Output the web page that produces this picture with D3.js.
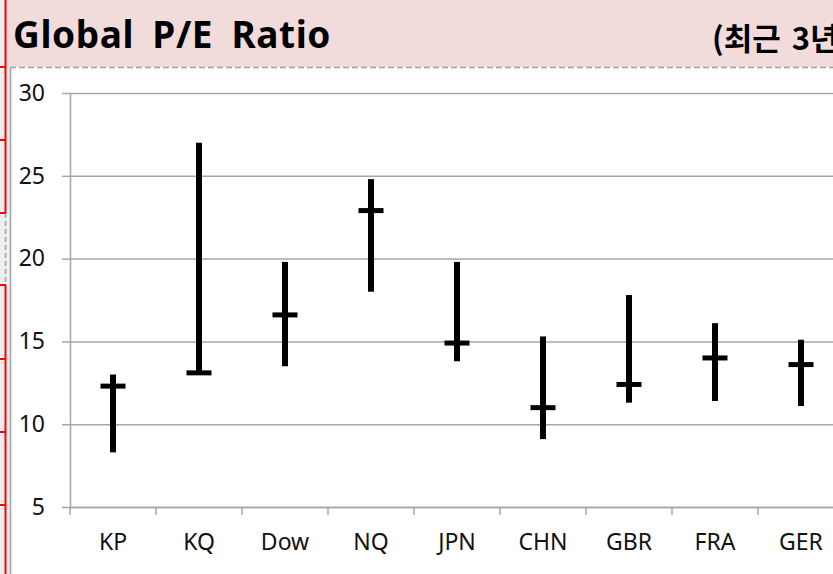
<!DOCTYPE html>
<html>
<head>
<meta charset="utf-8">
<script src="https://cdn.jsdelivr.net/npm/d3@7"></script>
<style>
  body { margin: 0; background: #fff; }
  svg { display: block; font-family: "Noto Sans", "Noto Sans CJK KR", sans-serif; }
</style>
</head>
<body>
<div id="chart"></div>
<script>
// P/E range over last 3 years, with the current value as a crossbar
let categories = ["KP", "KQ", "Dow", "NQ", "JPN", "CHN", "GBR", "FRA", "GER"];
let highs    = [13.0, 27.0, 19.8, 24.8, 19.8, 15.3, 17.8, 16.1, 15.1];
let lows     = [8.3, 13.1, 13.5, 18.0, 13.8, 9.1, 11.3, 11.4, 11.1];
let currents = [12.3, 13.1, 16.6, 22.9, 14.9, 11.0, 12.4, 14.0, 13.6];
let yTicks   = [5, 10, 15, 20, 25, 30];

let W = 833, H = 574;
let plot = { left: 70, top: 93, right: 844, bottom: 507 };
let gridColor = "#a6a6a6";

var svg = d3.select("#chart").append("svg")
    .attr("width", W)
    .attr("height", H);

// page / screenshot background bits
svg.append("rect").attr("x", 0).attr("y", 0).attr("width", 10).attr("height", H).attr("fill", "#efefef");
svg.append("rect").attr("x", 6).attr("y", 0).attr("width", W - 6).attr("height", 67).attr("fill", "#f2dcdb");
svg.append("rect").attr("x", 11).attr("y", 68).attr("width", W - 11).attr("height", H - 68).attr("fill", "#fff");
svg.append("line").attr("x1", 10).attr("x2", W).attr("y1", 67.5).attr("y2", 67.5)
    .attr("stroke", "#a0a0a0").attr("stroke-width", 1.5).attr("stroke-dasharray", "6,3");
svg.append("line").attr("x1", 10.5).attr("x2", 10.5).attr("y1", 68).attr("y2", H)
    .attr("stroke", "#a0a0a0").attr("stroke-width", 1.5);

// red cell outlines on the left edge
var red = "#ff0000";
svg.append("line").attr("x1", 5.5).attr("x2", 5.5).attr("y1", 0).attr("y2", 213).attr("stroke", red).attr("stroke-width", 2);
svg.append("line").attr("x1", 5.5).attr("x2", 5.5).attr("y1", 213).attr("y2", 285)
    .attr("stroke", "#b0b0b0").attr("stroke-width", 2).attr("stroke-dasharray", "5,3");
svg.append("line").attr("x1", 5.5).attr("x2", 5.5).attr("y1", 285).attr("y2", H).attr("stroke", red).attr("stroke-width", 2);
[67, 140, 213, 285, 359, 432, 505].forEach(function (y) {
    svg.append("line").attr("x1", 0).attr("x2", 6).attr("y1", y).attr("y2", y)
        .attr("stroke", red).attr("stroke-width", 2);
});

// titles
svg.append("text")
    .attr("x", 13).attr("y", 48)
    .attr("font-size", 37).attr("font-weight", "bold")
    .attr("letter-spacing", 0.6)
    .attr("word-spacing", 8)
    .text("Global P/E Ratio");

svg.append("text")
    .attr("x", 712).attr("y", 50)
    .attr("font-size", 31).attr("font-weight", "bold")
    .attr("font-family", "'Noto Sans CJK KR', sans-serif")
    .attr("word-spacing", 4)
    .text("(최근 3년)");

// scales
var xScale = d3.scaleBand()
    .domain(categories)
    .range([plot.left, plot.right])
    .padding(0);

var yScale = d3.scaleLinear()
    .domain([5, 30])
    .range([plot.bottom, plot.top]);

// gridlines
var grid = svg.append("g")
    .attr("transform", "translate(" + plot.left + ",0)")
    .call(d3.axisLeft(yScale).tickValues(yTicks).tickSize(-(plot.right - plot.left)).tickFormat(""));
grid.select(".domain").remove();
grid.selectAll("line").attr("stroke", gridColor).attr("stroke-width", 1.5);

// y axis
var yAxis = svg.append("g")
    .attr("transform", "translate(" + plot.left + ",0)")
    .call(d3.axisLeft(yScale).tickValues(yTicks).tickSize(8).tickPadding(17).tickSizeOuter(0));
yAxis.select(".domain").attr("stroke", gridColor).attr("stroke-width", 1.5);
yAxis.selectAll("line").attr("stroke", gridColor).attr("stroke-width", 1.5);
yAxis.selectAll("text").attr("font-size", 23).attr("fill", "#111")
    .attr("font-family", "'Noto Sans', sans-serif");

// x axis labels (centered) and tick marks at band edges
var xAxis = svg.append("g")
    .attr("transform", "translate(0," + plot.bottom + ")")
    .call(d3.axisBottom(xScale).tickSize(0).tickPadding(27));
xAxis.select(".domain").attr("stroke", gridColor).attr("stroke-width", 1.5);
xAxis.selectAll("text").attr("font-size", 23).attr("fill", "#111")
    .attr("font-family", "'Noto Sans', sans-serif");

var edges = categories.map(function (d) { return xScale(d); }).concat([xScale.range()[1]]);
svg.append("g").selectAll("line.xtick")
    .data(edges)
    .enter().append("line")
    .attr("class", "xtick")
    .attr("x1", d => d).attr("x2", d => d)
    .attr("y1", plot.bottom).attr("y2", plot.bottom + 8)
    .attr("stroke", gridColor).attr("stroke-width", 1.5);

// range bars
var rows = categories.map(function (c, i) {
    return { cat: c, high: highs[i], low: lows[i], cur: currents[i] };
});
var cx = d => xScale(d.cat) + xScale.bandwidth() / 2;

svg.append("g").selectAll("line.range")
    .data(rows)
    .enter().append("line")
    .attr("class", "range")
    .attr("x1", cx).attr("x2", cx)
    .attr("y1", d => yScale(d.high))
    .attr("y2", d => yScale(d.low))
    .attr("stroke", "#000").attr("stroke-width", 6);

svg.append("g").selectAll("line.cur")
    .data(rows)
    .enter().append("line")
    .attr("class", "cur")
    .attr("x1", d => cx(d) - 12.5).attr("x2", d => cx(d) + 12.5)
    .attr("y1", d => yScale(d.cur))
    .attr("y2", d => yScale(d.cur))
    .attr("stroke", "#000").attr("stroke-width", 5);
</script>
</body>
</html>
